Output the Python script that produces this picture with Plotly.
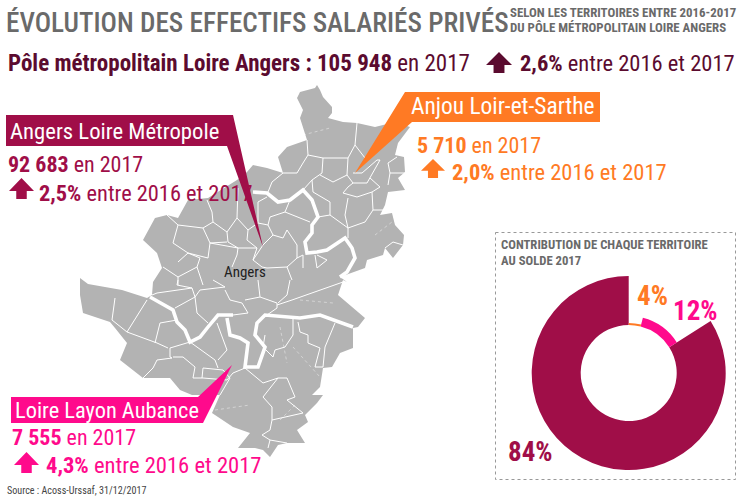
import plotly.graph_objects as go

# Chart values
territoires = ["Anjou Loir-et-Sarthe", "Loire Layon Aubance", "Angers Loire Métropole"]
contributions = [4, 12, 84]
couleurs = ["#FF7A24", "#FF0A8C", "#A00E48"]
rayons = [50, 57, 97]  # each ring is drawn with its own outer radius

# Map of the territory (x, y in image pixels)
contour = [(317,85),(320,90),(323,97),(332,107),(332,113),(328,118),(343,122),(357,123),(375,127),(395,122),
    (410,127),(398,143),(395,155),(404,157),(405,172),(398,178),(405,190),(388,192),(385,205),(380,215),
    (392,213),(395,225),(404,235),(403,245),(393,258),(385,248),(383,255),(367,260),(365,268),(350,273),
    (340,277),(347,282),(343,280),(338,295),(365,318),(358,327),(353,328),(353,348),(340,353),(332,367),
    (323,368),(320,387),(312,395),(323,395),(317,403),(305,415),(308,422),(297,430),(305,443),(287,443),
    (278,445),(270,457),(263,450),(255,448),(238,448),(250,433),(233,427),(212,413),(220,395),(192,395),
    (180,390),(170,378),(143,378),(120,360),(127,343),(115,328),(110,322),(83,313),(80,295),(80,278),
    (88,284),(122,290),(147,298),(152,295),(153,282),(162,268),(157,253),(143,240),(155,218),(167,215),
    (178,218),(188,200),(208,198),(237,180),(247,172),(253,165),(267,168),(283,173),(278,157),(287,147),
    (307,140),(300,118),(303,110),(297,98),(300,92),(315,88)]

rivieres = [
    [(253,192),(267,193),(278,202),(290,200),(303,190),(312,200),(318,217),(312,225),(312,233),(305,242),
     (307,253),(317,252),(327,250),(345,238),(352,248),(355,258),(347,272),(340,277)],
    [(150,297),(160,303),(173,310),(177,322),(185,330),(190,342),(200,337),(208,327),(218,315),(233,315)],
    [(227,318),(230,335),(240,338),(248,343),(245,367),(258,367),(265,347),(255,335),(257,323),(265,315),
     (300,318),(320,315),(353,327)],
]

communes = [
    [(307,140),(308,155),(303,163),(297,173),(283,173)],
    [(357,123),(355,145),(348,158),(323,158),(308,155)],
    [(355,145),(365,158)],
    [(323,158),(322,173),(312,180),(303,190)],
    [(348,158),(347,175),(333,182),(320,175)],
    [(283,173),(272,182),(268,192)],
    [(312,180),(313,192),(330,202),(330,215),(318,217)],
    [(285,212),(310,222)],
    [(290,200),(285,212),(270,217),(268,225),(273,235),(263,245),(253,260),(262,267)],
    [(347,175),(353,183),(367,183),(370,178),(380,160),(377,160),(362,173),(353,173)],
    [(370,178),(380,187),(372,192),(357,197),(343,193),(348,187),(353,183)],
    [(348,198),(345,215),(348,228)],
    [(330,215),(348,228),(348,238)],
    [(372,192),(373,210),(365,222),(348,228)],
    [(373,210),(385,210)],
    [(388,163),(397,157)],
    [(388,163),(390,173),(405,173)],
    [(390,173),(388,185)],
    [(167,215),(178,225),(173,243),(188,253),(178,262)],
    [(188,253),(208,258),(210,243),(227,242)],
    [(178,225),(203,228),(213,222),(212,212),(207,200)],
    [(203,228),(210,243)],
    [(213,222),(227,232),(228,242),(238,248),(237,255),(232,267)],
    [(210,243),(238,248)],
    [(227,232),(237,218),(248,230)],
    [(248,230),(247,240),(257,248)],
    [(237,218),(238,188)],
    [(248,230),(258,223),(258,202),(267,197)],
    [(258,223),(268,225)],
    [(238,248),(257,248),(253,260)],
    [(273,235),(283,238),(287,230),(297,245),(297,258),(287,267),(267,268),(262,267)],
    [(287,267),(292,280)],
    [(297,258),(303,255),(303,268)],
    [(315,255),(317,268),(327,260),(317,255)],
    [(385,248),(393,242),(403,245)],
    [(163,267),(178,277),(197,267),(200,258),(188,253)],
    [(178,277),(178,285)],
    [(197,267),(203,285)],
    [(115,298),(112,320),(127,332),(157,343),(168,348)],
    [(147,300),(127,332)],
    [(177,320),(160,323),(155,343)],
    [(152,295),(157,293),(192,288),(195,297),(175,308)],
    [(178,280),(177,285),(192,288)],
    [(195,297),(200,290),(225,287),(213,280)],
    [(195,297),(197,313),(208,323)],
    [(225,290),(230,300),(242,303),(248,313)],
    [(258,280),(260,297),(245,300)],
    [(260,297),(277,303),(277,308),(257,322)],
    [(277,305),(292,300),(343,282)],
    [(290,280),(287,295),(278,303)],
    [(170,348),(190,342)],
    [(170,348),(170,357),(172,358),(157,360),(153,368),(143,378)],
    [(173,357),(183,357),(195,367),(193,378),(203,378),(227,380),(233,373)],
    [(203,368),(202,378)],
    [(203,368),(223,370),(230,378)],
    [(190,342),(215,360),(218,368)],
    [(218,360),(227,350),(217,323)],
    [(245,368),(263,383),(278,378),(287,378),(295,397),(287,400),(303,413),(272,420),(270,430),(262,435),(270,440),(268,448)],
    [(278,378),(263,397),(272,407),(272,420)],
    [(270,440),(287,443)],
    [(233,373),(245,368)],
    [(230,378),(220,395)],
    [(293,317),(293,335),(285,347),(275,350),(273,357),(263,347),(265,335)],
    [(298,322),(300,332),(308,335),(308,343),(320,348),(315,367),(323,367),(325,347),(335,323)],
    [(233,315),(248,313)],
]

pointilles = [
    [(303,135),(330,128)],
    [(375,235),(392,222)],
    [(280,327),(287,363)],
    [(293,347),(320,377)],
    [(300,300),(333,303)],
    [(215,410),(250,405)],
    [(280,420),(295,405)],
]

W, H = 745, 498
FONT = "Roboto Condensed"
GRIS, SOMBRE = "#6A6A6A", "#5B0B2F"
ORANGE, ROSE, BORDEAUX = couleurs


def tracer_lignes(fig, lignes, width, color="white", dash="solid"):
    xs, ys = [], []
    for ligne in lignes:
        xs += [p[0] for p in ligne] + [None]
        ys += [p[1] for p in ligne] + [None]
    fig.add_trace(go.Scatter(x=xs, y=ys, mode="lines", hoverinfo="skip",
                             line=dict(color=color, width=width, dash=dash)))


def fleche(x0, x1, y0, y1, color):
    # up arrow with a wide head
    xm = (x0 + x1) / 2
    t = (x1 - x0) * 0.21
    yh = y0 + (y1 - y0) * 0.62
    path = (f"M{xm},{y0} L{x1},{yh} L{xm + t},{yh} L{xm + t},{y1} "
            f"L{xm - t},{y1} L{xm - t},{yh} L{x0},{yh} Z")
    return dict(type="path", path=path, fillcolor=color, line_width=0)


def texte(x, y, s, size, color, anchor="left", weight="normal"):
    return dict(x=x, y=y, text=s, showarrow=False, xanchor=anchor, yanchor="middle",
                font=dict(family=FONT, size=size, color=color, weight=weight))


fig = go.Figure()

fig.add_trace(go.Scatter(x=[p[0] for p in contour], y=[p[1] for p in contour], mode="lines",
                         fill="toself", fillcolor="#B3B3B3", line=dict(color="#B3B3B3", width=0),
                         hoverinfo="skip"))
tracer_lignes(fig, communes, 1.0)
tracer_lignes(fig, rivieres, 3.6)
tracer_lignes(fig, pointilles, 0.7, color="rgba(255,255,255,0.6)", dash="dot")

# Donut: one pie per ring radius, same values, only one slice visible in each
cx, cy, trou = 628.7, 373, 48
for i in [2, 1, 0]:
    r = rayons[i]
    fig.add_trace(go.Pie(
        labels=territoires, values=contributions, sort=False, direction="clockwise", rotation=0,
        hole=trou / r, textinfo="none", hoverinfo="skip", showlegend=False,
        marker=dict(colors=[c if j == i else "rgba(0,0,0,0)" for j, c in enumerate(couleurs)], line_width=0),
        domain=dict(x=[(cx - r) / W, (cx + r) / W], y=[1 - (cy + r) / H, 1 - (cy - r) / H]),
    ))

shapes = [
    dict(type="rect", x0=495.5, x1=735.5, y0=232.5, y1=479.5, line=dict(color="#999999", width=1, dash="dot")),
    dict(type="path", path="M6,115 L233,115 L263,247 L227,146 L6,146 Z", fillcolor=BORDEAUX, line_width=0),
    dict(type="path", path="M405,92 L600,92 L600,122 L412,122 L355,173 Z", fillcolor=ORANGE, line_width=0),
    dict(type="path", path="M11,397 L198,397 L232,365 L203,423 L11,423 Z", fillcolor=ROSE, line_width=0),
    fleche(486, 512, 52, 73, SOMBRE),
    fleche(9, 34, 178, 199, BORDEAUX),
    fleche(421, 445, 159, 178, ORANGE),
    fleche(14, 39, 452, 473, ROSE),
]

annotations = [
    texte(4, 23, "ÉVOLUTION DES EFFECTIFS SALARIÉS PRIVÉS", 27.2, GRIS, weight=500),
    texte(508, 12.5, "<b>SELON LES TERRITOIRES ENTRE 2016-2017</b>", 12.9, GRIS),
    texte(508, 27, "<b>DU PÔLE MÉTROPOLITAIN LOIRE ANGERS</b>", 12.9, GRIS),
    texte(6, 63, "<b>Pôle métropolitain Loire Angers : 105 948</b> en 2017", 23, SOMBRE),
    texte(518, 63, "<b>2,6%</b> entre 2016 et 2017", 22.5, SOMBRE),
    texte(8, 131, "Angers Loire Métropole", 22.7, "white"),
    texte(6, 164, "<b>92 683</b> en 2017", 22, BORDEAUX),
    texte(37, 193, "<b>2,5%</b> entre 2016 et 2017", 22.4, BORDEAUX),
    texte(409, 106, "Anjou Loir-et-Sarthe", 23.4, "white"),
    texte(415, 145, "<b>5 710</b> en 2017", 22, ORANGE),
    texte(450, 172, "<b>2,0%</b> entre 2016 et 2017", 22.5, ORANGE),
    texte(13, 410, "Loire Layon Aubance", 22.4, "white"),
    texte(10, 437, "<b>7 555</b> en 2017", 22, ROSE),
    texte(44, 465, "<b>4,3%</b> entre 2016 et 2017", 22.6, ROSE),
    texte(245, 272, "Angers", 15, "#222222", anchor="center"),
    texte(499, 244, "<b>CONTRIBUTION DE CHAQUE TERRITOIRE</b>", 12.7, GRIS),
    texte(499, 260, "<b>AU SOLDE 2017</b>", 12.7, GRIS),
    texte(652, 296, f"<b>{contributions[0]}%</b>", 27, ORANGE, anchor="center"),
    texte(695, 311, f"<b>{contributions[1]}%</b>", 27, ROSE, anchor="center"),
    texte(530, 452, f"<b>{contributions[2]}%</b>", 27, BORDEAUX, anchor="center"),
    texte(5, 490, "Source : Acoss-Urssaf, 31/12/2017", 10.1, "#444444"),
]

fig.update_layout(
    width=W, height=H, margin=dict(l=0, r=0, t=0, b=0),
    paper_bgcolor="white", plot_bgcolor="white", showlegend=False,
    xaxis=dict(range=[0, W], visible=False, fixedrange=True, domain=[0, 1]),
    yaxis=dict(range=[H, 0], visible=False, fixedrange=True, domain=[0, 1]),
    shapes=shapes, annotations=annotations,
)

# no page margin, so image pixels and figure pixels are the same
fig.write_html("out.html", post_script="document.body.style.margin='0';", config=dict(displayModeBar=False))
